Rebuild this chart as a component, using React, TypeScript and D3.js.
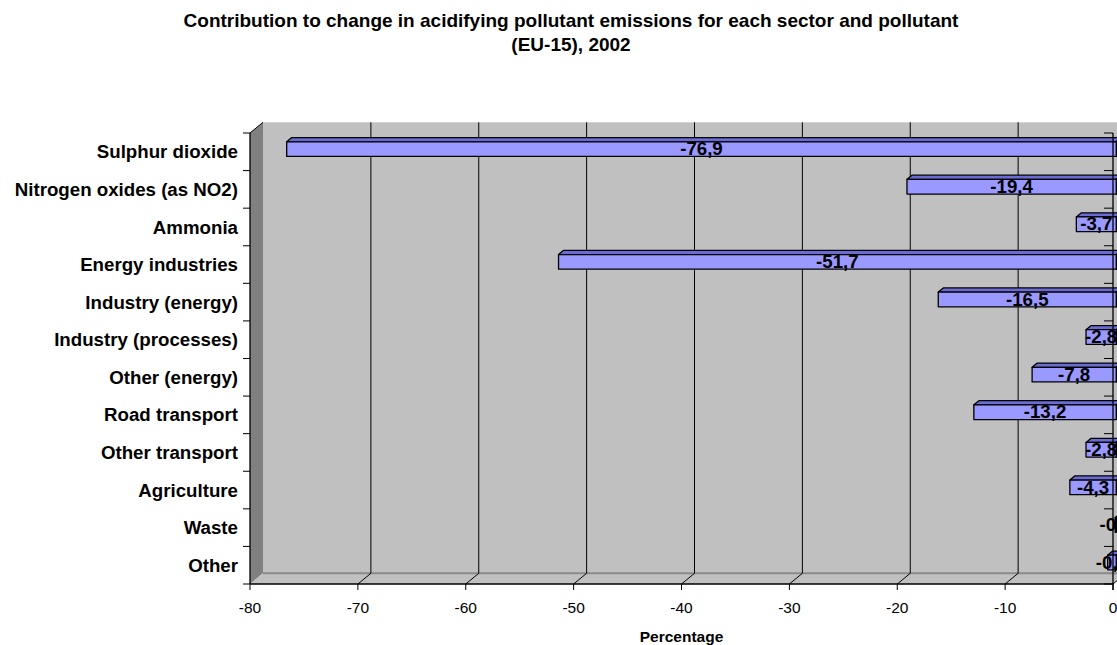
import * as d3 from 'd3';

const CATEGORIES = [
  'Sulphur dioxide',
  'Nitrogen oxides (as NO2)',
  'Ammonia',
  'Energy industries',
  'Industry (energy)',
  'Industry (processes)',
  'Other (energy)',
  'Road transport',
  'Other transport',
  'Agriculture',
  'Waste',
  'Other',
];
const VALUES = [-76.9, -19.4, -3.7, -51.7, -16.5, -2.8, -7.8, -13.2, -2.8, -4.3, -0.1, -0.8];
const X_TICKS = [-80, -70, -60, -50, -40, -30, -20, -10, 0];

const TITLE_LINES = [
  'Contribution to change in acidifying pollutant emissions for each sector and pollutant',
  '(EU-15), 2002',
];
const X_TITLE = 'Percentage';

const W = 1117;
const H = 645;
const FONT = '"Liberation Sans", Arial, sans-serif';

export default function App() {
  const plot = { left: 250, right: 1113, top: 133, bottom: 584 };
  const depth = { dx: 13, dy: -10.7 };

  const x = d3.scaleLinear().domain([-80, 0]).range([plot.left, plot.right]);
  const y = d3.scaleBand<string>().domain(CATEGORIES).range([plot.top, plot.bottom]);
  const bw = y.bandwidth();
  const barH = bw * 0.39;
  const d1 = 0.25;
  const d2 = 0.64;
  const o1 = { x: depth.dx * d1, y: depth.dy * d1 };
  const o2 = { x: depth.dx * d2, y: depth.dy * d2 };

  // comma decimal, plain hyphen like the original
  const fmt = (v: number) => v.toFixed(1).replace('.', ',');
  const pts = (p: [number, number][]) => p.map((q) => q.join(',')).join(' ');

  const bx = plot.left + depth.dx;
  const bTop = plot.top + depth.dy;
  const bBottom = plot.bottom + depth.dy;
  const boundaries = [...CATEGORIES.map((c) => y(c) as number), plot.bottom];

  return (
    <svg
      width={W}
      height={H}
      style={{ position: 'fixed', left: 0, top: 0, background: '#fff' }}
      fontFamily={FONT}
    >
      {/* title */}
      {TITLE_LINES.map((t, i) => (
        <text key={t} x={571} y={27 + i * 24} textAnchor="middle" fontSize={19} fontWeight="bold">
          {t}
        </text>
      ))}

      {/* back wall */}
      <rect x={bx} y={bTop} width={x(0) + depth.dx - bx} height={bBottom - bTop} fill="#c0c0c0" />
      {/* left wall */}
      <polygon
        points={pts([
          [plot.left, plot.top],
          [bx, bTop],
          [bx, bBottom],
          [plot.left, plot.bottom],
        ])}
        fill="#808080"
      />
      <line x1={plot.left} y1={plot.top} x2={bx} y2={bTop} stroke="#000" strokeWidth={1} />
      {/* floor */}
      <polygon
        points={pts([
          [plot.left, plot.bottom],
          [x(0), plot.bottom],
          [x(0) + depth.dx, bBottom],
          [bx, bBottom],
        ])}
        fill="#c0c0c0"
      />
      <line x1={bx} y1={bBottom} x2={x(0) + depth.dx} y2={bBottom} stroke="#8a8a8a" strokeWidth={2} />

      {/* gridlines */}
      {X_TICKS.filter((t) => t > -80).map((t) => (
        <g key={t}>
          <line x1={x(t) + depth.dx} y1={bTop} x2={x(t) + depth.dx} y2={bBottom} stroke="#000" strokeWidth={1} />
          <line x1={x(t)} y1={plot.bottom} x2={x(t) + depth.dx} y2={bBottom} stroke="#000" strokeWidth={1} />
        </g>
      ))}

      {/* bars */}
      {CATEGORIES.map((c, i) => {
        const v = VALUES[i];
        const y0 = (y(c) as number) + (bw - barH) / 2;
        const xa = x(v);
        const xb = x(0);
        return (
          <g key={c} stroke="#000" strokeWidth={1.3} strokeLinejoin="round">
            <polygon
              points={pts([
                [xa + o1.x, y0 + o1.y],
                [xb + o1.x, y0 + o1.y],
                [xb + o2.x, y0 + o2.y],
                [xa + o2.x, y0 + o2.y],
              ])}
              fill="#6b6bd6"
            />
            <polygon
              points={pts([
                [xb + o1.x, y0 + o1.y],
                [xb + o2.x, y0 + o2.y],
                [xb + o2.x, y0 + barH + o2.y],
                [xb + o1.x, y0 + barH + o1.y],
              ])}
              fill="#5252b0"
            />
            <rect x={xa + o1.x} y={y0 + o1.y} width={xb - xa} height={barH} fill="#9999ff" />
          </g>
        );
      })}

      {/* axes */}
      <line x1={plot.left} y1={plot.top} x2={plot.left} y2={plot.bottom} stroke="#000" strokeWidth={1.3} />
      <line x1={plot.left} y1={plot.bottom} x2={x(0)} y2={plot.bottom} stroke="#000" strokeWidth={1.3} />
      <line x1={x(0)} y1={plot.top} x2={x(0)} y2={plot.bottom + 6} stroke="#000" strokeWidth={1.3} />
      {boundaries.map((b, i) => (
        <g key={i} stroke="#000" strokeWidth={1}>
          <line x1={plot.left - 7} y1={b} x2={plot.left} y2={b} />
          <line x1={x(0) - 9} y1={b} x2={x(0)} y2={b} />
        </g>
      ))}
      {X_TICKS.map((t) => (
        <g key={t}>
          <line x1={x(t)} y1={plot.bottom} x2={x(t)} y2={plot.bottom + 6} stroke="#000" strokeWidth={1} />
          <text x={x(t)} y={613} textAnchor="middle" fontSize={15.5}>
            {t}
          </text>
        </g>
      ))}
      <text x={(plot.left + plot.right) / 2} y={642} textAnchor="middle" fontSize={15.5} fontWeight="bold">
        {X_TITLE}
      </text>

      {/* category labels */}
      {CATEGORIES.map((c) => (
        <text key={c} x={238} y={(y(c) as number) + bw / 2 + 6.6} textAnchor="end" fontSize={18.7} fontWeight="bold">
          {c}
        </text>
      ))}

      {/* value labels */}
      {CATEGORIES.map((c, i) => {
        const v = VALUES[i];
        const y0 = (y(c) as number) + (bw - barH) / 2 + o1.y;
        const cx = (x(v) + x(0)) / 2 + o1.x;
        return (
          <text key={c} x={cx} y={y0 + barH / 2 + 6.2} textAnchor="middle" fontSize={18.7} fontWeight="bold">
            {fmt(v)}
          </text>
        );
      })}
    </svg>
  );
}
